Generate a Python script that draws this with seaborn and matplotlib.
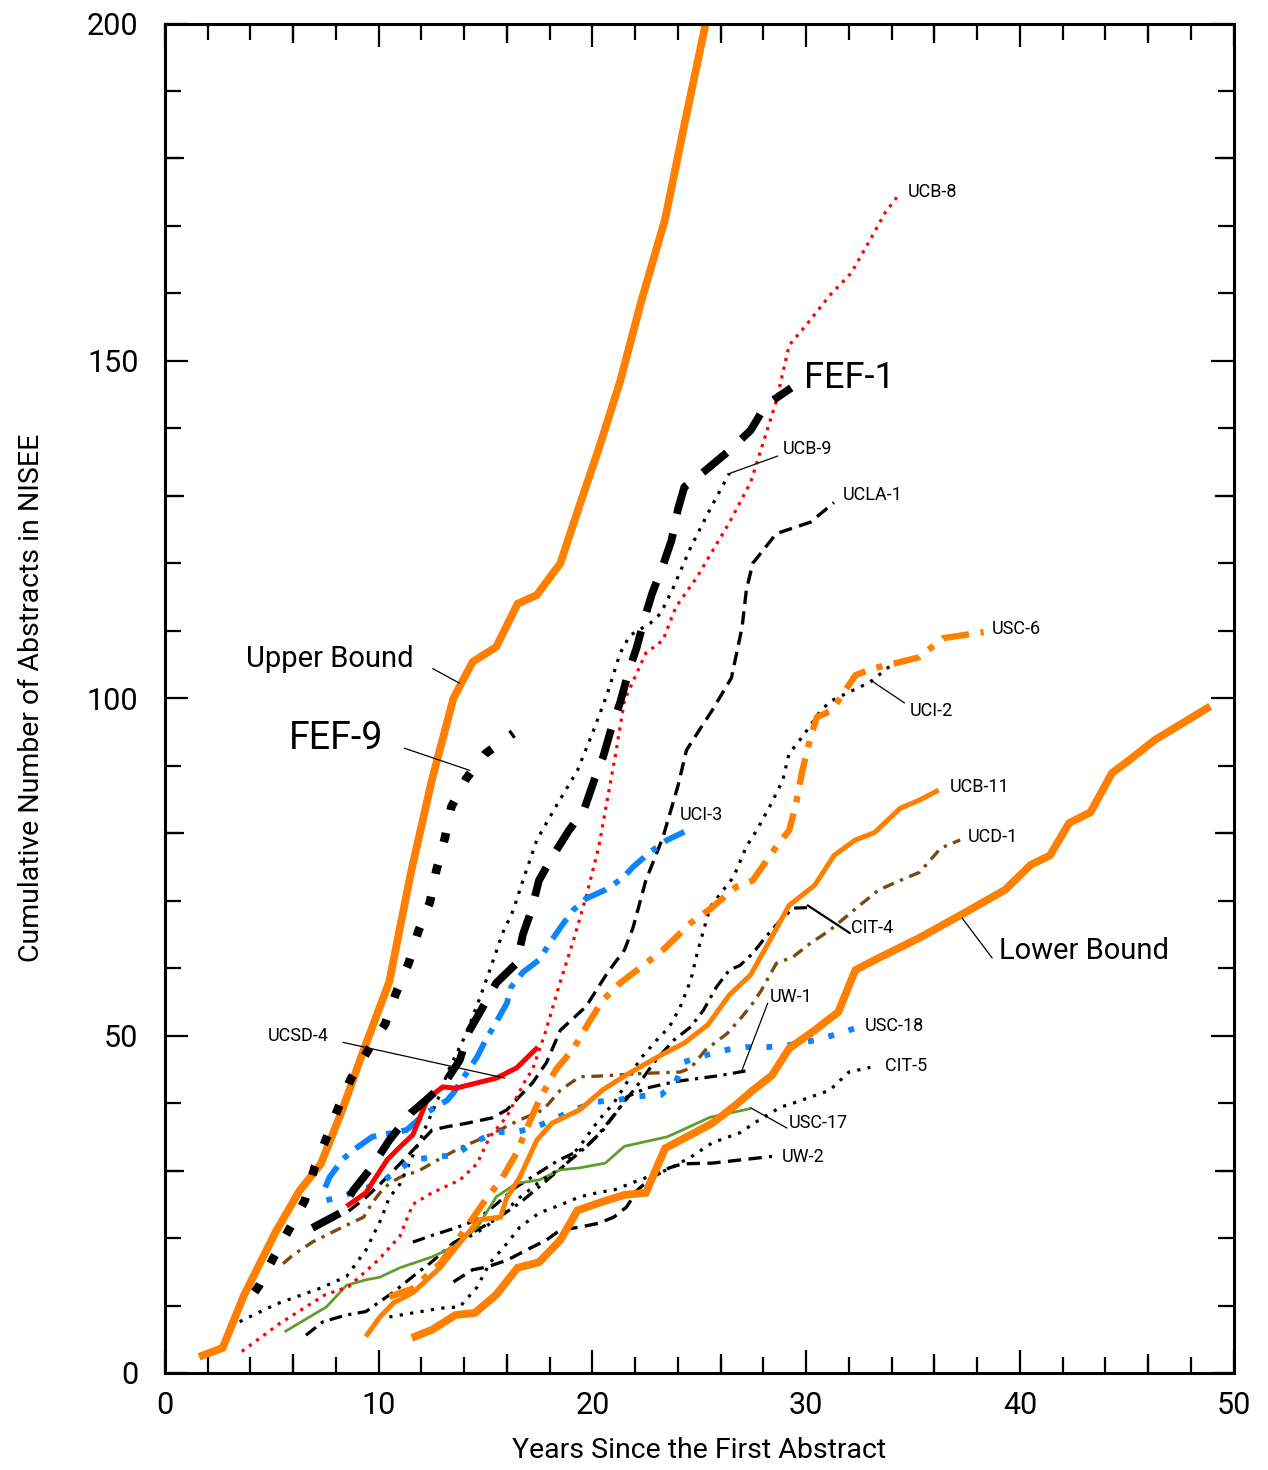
import matplotlib
matplotlib.use("Agg")
import matplotlib.pyplot as plt
import seaborn as sns
import numpy as np
import pandas as pd

# ---------------- data ----------------
upper_x = [1.6, 2.7, 3.7, 5.2, 6.3, 7.3, 8.3, 9.2, 10.5, 11.5, 12.5, 13.5, 14.4, 15.5, 16.5, 17.4, 18.5, 19.4, 20.3, 21.3, 22.3, 23.4, 24.3, 25.3]
upper_y = [2.4, 3.7, 11.5, 21, 27, 31, 39, 47, 58, 74, 88, 100, 105.4, 107.6, 114, 115.3, 120, 128.6, 137, 147, 159, 171, 185, 200]

lower_x = [11.55, 12.5, 13.6, 14.5, 15.5, 16.5, 17.5, 18.5, 19.3, 20.3, 21.5, 22.5, 23.4, 24.6, 25.6, 26.7, 27.5, 28.4, 29.2, 30.4, 31.5, 32.3, 33.2, 35.3, 37.3, 39.3, 40.5, 41.4, 42.3, 43.3, 44.3, 45.1, 46.3, 48.9]
lower_y = [5.2, 6.4, 8.6, 8.9, 11.6, 15.6, 16.4, 19.7, 24.1, 25.2, 26.4, 26.7, 33.3, 35.3, 37, 39.7, 41.9, 44.1, 48.1, 50.8, 53.5, 59.7, 61.2, 64.5, 68, 71.6, 75.3, 76.7, 81.5, 83.1, 88.9, 90.8, 93.8, 98.8]

fef9_x = [4.2, 4.4, 5.1, 5.85, 6.55, 7.0, 7.56, 8.1, 8.7, 9.5, 10.3, 10.8, 11.4, 11.85, 12.4, 12.7, 13.1, 13.4, 14.1, 15.0, 16.3]
fef9_y = [12, 12.9, 17.2, 21.5, 25.6, 30.4, 34.8, 39.2, 43.6, 47.8, 51.7, 56.2, 60.7, 65.4, 69.8, 74.5, 79.3, 83.9, 88.1, 91.8, 94.8]

fef1_x = [6.9, 8.2, 8.8, 9.7, 10.5, 11.5, 12.2, 13.1, 13.8, 14.2, 14.8, 15.5, 16.45, 16.75, 17.15, 17.5, 18.1, 18.9, 19.6, 20.1, 20.5, 20.9, 21.3, 21.7, 22.06, 22.45, 22.8, 23.3, 23.7, 24.0, 24.3, 25.3, 26.4, 27.4, 28.1, 29.3]
fef1_y = [21.5, 23.7, 27, 30.6, 34.5, 38.5, 40.4, 43, 46.4, 50.5, 53.8, 57.8, 60.7, 65, 68.6, 73, 76.4, 80.4, 83.4, 88, 91.3, 95.7, 99.4, 104, 107.4, 112, 115.6, 119.7, 123.4, 128, 131.3, 133.8, 136.7, 139.7, 143.4, 146]

ucb8_x = [3.6, 5.4, 7.5, 8.6, 10.0, 11.0, 11.6, 12.5, 13.8, 14.6, 15.2, 16.0, 16.8, 17.2, 17.8, 18.5, 19.1, 19.7, 20.3, 21.1, 21.5, 22.5, 23.3, 23.9, 24.9, 26.4, 27.4, 28.1, 28.6, 29.2, 30.1, 31.1, 32.1, 33.0, 33.7, 34.3]
ucb8_y = [3.2, 7.4, 11.6, 12.8, 16.8, 20.3, 25, 26.7, 28.6, 31, 35, 38, 43, 45, 50.5, 58, 64, 70.5, 78, 92, 99.7, 106.7, 108.6, 113.5, 118, 126, 132, 139, 144, 152.3, 155.7, 159.7, 163, 168, 172, 174.5]

ucb9_x = [3.5, 5.2, 7.3, 8.5, 9.4, 10.1, 10.5, 11.0, 12.0, 12.9, 13.2, 13.5, 14.1, 14.7, 15.2, 15.8, 16.3, 16.75, 17.4, 18.3, 19.3, 20.0, 20.7, 21.3, 21.75, 22.7, 23.2, 23.8, 24.6, 25.5, 26.4]
ucb9_y = [7.6, 10.2, 12.6, 14.3, 18.2, 22.7, 26, 28, 35, 41.5, 44.4, 46.4, 50.3, 55.3, 59.7, 65.2, 68.6, 73, 79, 84, 89.3, 94.8, 100.7, 106.7, 109.3, 111.1, 112.6, 116.5, 122.4, 128, 133.3]

ucla1_x = [8.6, 9.4, 10.1, 11.0, 11.6, 12.5, 13.2, 14.1, 15.3, 16.0, 16.6, 17.2, 17.85, 18.5, 19.7, 20.7, 21.5, 21.9, 22.5, 23.3, 24.0, 24.4, 24.7, 25.6, 26.5, 26.7, 27.0, 27.2, 27.5, 28.6, 30.2, 31.3]
ucla1_y = [24, 26, 28.1, 31, 33, 36, 36.5, 37, 37.8, 39, 41, 43, 46, 50.8, 54.3, 59.3, 62.7, 66, 73, 79.4, 87, 92.3, 93.8, 98.2, 103, 106, 110.5, 116, 120, 124.4, 126.1, 129]

usc6_x = [10.5, 11.6, 12.9, 13.8, 14.9, 15.8, 16.45, 16.9, 17.5, 18.3, 19.1, 19.9, 20.5, 21.3, 22.5, 23.3, 24.6, 25.6, 26.7, 27.5, 28.6, 29.2, 29.5, 29.8, 30.2, 30.5, 31.2, 32.3, 33.1, 34.2, 35.3, 36.4, 38.3]
usc6_y = [11.3, 12.5, 16.3, 20.2, 25.2, 29, 32.6, 36, 40.4, 45, 48, 52.3, 55.3, 57.8, 60.7, 62.7, 66.7, 69, 72, 73, 78, 80.4, 84, 89, 94.2, 97.2, 98.2, 103.4, 104.4, 105.2, 106.1, 108.9, 109.8]

uci2_x = [13.8, 14.6, 15.6, 16.6, 17.6, 18.6, 19.5, 20.3, 21.0, 21.6, 22.2, 23.0, 23.6, 24.1, 24.6, 24.9, 25.2, 25.5, 26.0, 26.6, 27.2, 27.7, 28.3, 28.9, 29.2, 29.8, 30.6, 31.1, 32.0, 33.0, 34.2]
uci2_y = [19.5, 20.8, 23, 26, 28.5, 30.5, 34, 37.5, 40, 43, 46.4, 49.3, 51.3, 54.2, 58.2, 62.2, 65.6, 69, 71.1, 73.5, 78, 80.5, 84, 87.8, 91.8, 94.2, 97.8, 99.5, 100.9, 102.4, 105.5]

uci3_x = [7.5, 7.7, 8.3, 8.8, 9.7, 11.3, 12.2, 13.2, 13.5, 14.1, 14.6, 15.0, 15.5, 16.0, 16.2, 16.75, 17.5, 18.0, 18.5, 19.1, 19.7, 20.6, 21.4, 21.9, 22.7, 23.5, 24.3]
uci3_y = [27.5, 29, 31.6, 33, 35, 36, 38.5, 40.4, 41.5, 44.4, 46.8, 49.3, 52, 54.8, 57.2, 59.4, 61.2, 63.7, 66, 68.6, 70.3, 71.6, 73.3, 75, 77.2, 79, 80.2]

ucb11_x = [9.4, 10.06, 10.7, 11.6, 12.9, 13.8, 14.7, 15.7, 16.0, 16.6, 17.4, 18.1, 19.4, 20.5, 21.7, 23.2, 24.3, 25.4, 26.4, 27.4, 28.3, 29.2, 30.4, 31.3, 32.3, 33.2, 34.4, 35.3, 36.2]
ucb11_y = [5.4, 8.3, 10.4, 11.9, 15.7, 19.3, 22.7, 23.1, 26, 29, 34.5, 37, 39, 42, 44.4, 47.1, 48.9, 51.6, 56, 59, 64.1, 69.3, 72.3, 76.7, 79, 80.1, 83.7, 84.9, 86.4]

ucd1_x = [5.53, 6.0, 6.9, 8.3, 9.3, 9.7, 10.06, 10.5, 11.0, 11.9, 13.0, 13.9, 15.0, 16.6, 17.7, 18.5, 19.4, 20.3, 22.4, 24.1, 24.6, 25.3, 26.3, 27.0, 27.5, 27.9, 28.6, 29.4, 30.2, 31.1, 32.5, 33.4, 34.4, 35.3, 36.3, 37.2]
ucd1_y = [16.2, 17.5, 19.4, 21.6, 23.1, 25.2, 26.7, 28.1, 29, 30, 32, 33.5, 35, 37.5, 39, 41.9, 43.9, 44, 44.4, 44.6, 45.2, 47.9, 50.3, 52.8, 54.8, 56.7, 60.7, 61.7, 63.7, 65.6, 69.3, 71.6, 73, 74.2, 77.8, 79]

cit4_x = [6.6, 7.4, 8.5, 9.4, 10.7, 11.6, 12.5, 13.5, 14.5, 15.5, 16.6, 17.7, 18.8, 19.7, 20.5, 21.3, 22.2, 23.0, 23.8, 24.6, 25.2, 25.8, 26.4, 26.9, 27.5, 28.1, 28.8, 29.4, 30.3]
cit4_y = [5.6, 7.6, 8.6, 9.1, 12, 14.3, 16.5, 19.3, 21, 22.8, 25.2, 28.1, 31.1, 33.5, 36, 39.4, 43, 46.5, 49.3, 51.3, 53.8, 57.2, 59.7, 60.4, 62.2, 64.6, 67.1, 68.9, 69]

uw1_x = [11.6, 12.6, 13.6, 14.6, 15.5, 16.4, 17.4, 18.4, 19.4, 19.7, 20.2, 20.7, 21.3, 21.6, 22.5, 23.9, 26.0, 27.4]
uw1_y = [19.4, 20.5, 21.5, 22.7, 25, 27.5, 29.5, 31.5, 33, 33.5, 35, 37, 39.4, 40.9, 42.2, 43.2, 44.1, 44.9]

usc18_x = [7.56, 8.2, 9.1, 10.06, 10.8, 11.6, 12.6, 13.6, 14.4, 15.5, 16.45, 17.4, 18.3, 19.3, 20.2, 21.1, 22.1, 23.2, 23.9, 24.3, 25.3, 26.3, 27.2, 28.2, 29.2, 30.4, 31.3, 32.3]
usc18_y = [25.6, 26.1, 27.1, 28.1, 29.8, 31.6, 32, 32.3, 34.1, 35.7, 35.7, 36.5, 37.8, 39.2, 40.2, 40.4, 41, 41.2, 43.1, 46.1, 47.1, 47.9, 48.3, 48.3, 48.6, 49.3, 50.1, 51.1]

cit5_x = [10.5, 11.6, 12.9, 13.8, 14.6, 15.2, 16.0, 16.6, 17.5, 18.5, 19.4, 20.35, 21.0, 22.2, 23.5, 24.6, 25.6, 26.9, 27.8, 28.8, 29.4, 31.1, 32.0, 33.0]
cit5_y = [8.3, 8.9, 9.6, 9.8, 12.7, 16.3, 19.2, 21.6, 23.7, 24.9, 26.1, 26.8, 27.1, 28.6, 30.1, 32, 34.1, 35.6, 37.5, 39.4, 40, 41.9, 44.6, 45.3]

usc17_x = [5.6, 7.56, 8.5, 9.4, 10.06, 11.0, 12.5, 13.5, 14.6, 15.5, 16.45, 17.5, 18.5, 19.4, 20.6, 21.5, 23.5, 24.2, 25.5, 26.4, 27.4]
usc17_y = [6.1, 9.8, 13, 13.8, 14.2, 15.6, 17.2, 18.7, 21.5, 26.1, 28.1, 28.6, 30.1, 30.4, 31.1, 33.6, 35, 36, 37.9, 38.5, 39.2]

uw2_x = [13.5, 14.4, 15.05, 16.0, 16.9, 17.85, 18.5, 19.4, 20.3, 21.0, 21.6, 22.1, 22.8, 23.6, 24.2, 25.6, 27.0, 28.4]
uw2_y = [13.5, 15.3, 15.7, 16.7, 18.2, 19.7, 21.2, 21.6, 22.2, 23.1, 24.6, 27.1, 29, 30.4, 31, 31.1, 31.6, 32.1]

ucsd4_x = [8.5, 9.4, 10.4, 11.0, 11.6, 12.3, 13.0, 13.6, 15.5, 16.45, 17.45]
ucsd4_y = [24.7, 26.7, 31.6, 33.5, 35.3, 40.7, 42.4, 42.2, 43.7, 45.2, 48.3]

x_ticks = [0, 10, 20, 30, 40, 50]
y_ticks = [0, 50, 100, 150, 200]

# ---------------- styling ----------------
sns.set_theme(style="ticks")
plt.rcParams['font.family'] = ['Roboto', 'DejaVu Sans']
plt.rcParams['text.color'] = 'black'
plt.rcParams['axes.labelcolor'] = 'black'
plt.rcParams['xtick.color'] = 'black'
plt.rcParams['ytick.color'] = 'black'
WEIGHT = 'normal'

ORANGE = "#FF8000"
RED = "#FF0000"
BLUE = "#0A84FF"
BROWN = "#7A4A10"
GREEN = "#5E9E2E"
BLACK = "#000000"

fig = plt.figure(figsize=(12.68, 14.70), dpi=100)
ax = fig.add_axes([0.130, 0.066, 0.843, 0.918])

def draw(x, y, color, lw, ls="-", z=2, cap="butt"):
    df = pd.DataFrame({"x": x, "y": y})
    sns.lineplot(data=df, x="x", y="y", sort=False, estimator=None, ax=ax,
                 color=color, linewidth=lw, linestyle=ls, zorder=z,
                 dash_capstyle=cap, solid_capstyle="butt", solid_joinstyle="miter")

# thin lines first
draw(cit5_x, cit5_y, BLACK, 2.3, (0, (1, 2.3)))
draw(uw2_x, uw2_y, BLACK, 2.4, (0, (4, 2.2)))
draw(uw1_x, uw1_y, BLACK, 2.3, (0, (4, 2, 1, 2)))
draw(cit4_x, cit4_y, BLACK, 2.3, (0, (4, 2, 1, 2)))
draw(usc17_x, usc17_y, GREEN, 2.0)
draw(ucd1_x, ucd1_y, BROWN, 2.4, (0, (3.5, 2, 1, 2)))
draw(uci2_x, uci2_y, BLACK, 2.3, (0, (1, 2.3)))
draw(ucla1_x, ucla1_y, BLACK, 2.4, (0, (4, 2.2)))
draw(ucb9_x, ucb9_y, BLACK, 2.3, (0, (1, 2.3)))
draw(ucb8_x, ucb8_y, RED, 2.3, (0, (1, 1.8)))
draw(usc18_x, usc18_y, BLUE, 4.2, (0, (1, 2.6)))
draw(ucb11_x, ucb11_y, ORANGE, 3.6)
draw(usc6_x, usc6_y, ORANGE, 4.6, (0, (4.2, 1.8, 1, 1.8)))
draw(uci3_x, uci3_y, BLUE, 4.2, (0, (4.2, 1.7, 1, 1.7)))
draw(ucsd4_x, ucsd4_y, RED, 3.6)
draw(lower_x, lower_y, ORANGE, 5.6)
draw(upper_x, upper_y, ORANGE, 5.6)
draw(fef1_x, fef1_y, BLACK, 5.6, (0, (4.0, 2.6)))
draw(fef9_x, fef9_y, BLACK, 6.2, (0, (1.1, 2.7)))

# ---------------- axes ----------------
ax.set_xlim(0, 50)
ax.set_ylim(0, 200)
ax.set_xticks(x_ticks)
ax.set_yticks(y_ticks)
ax.set_xticks(np.arange(0, 51, 2), minor=True)
ax.set_yticks(np.arange(0, 201, 10), minor=True)
ax.tick_params(which="major", direction="in", length=16.5, width=1.6,
               top=True, right=True, labelsize=22, colors=BLACK)
ax.tick_params(which="minor", direction="in", length=11.5, width=1.6,
               top=True, right=True)
ax.tick_params(axis="x", which="major", pad=13)
ax.tick_params(axis="y", which="major", pad=19)
for s in ax.spines.values():
    s.set_linewidth(2.2)
    s.set_color(BLACK)

# medium ticks
for loc in ("bottom", "top"):
    sec = ax.secondary_xaxis(loc)
    sec.set_xticks([6, 16, 26, 36, 46])
    sec.set_xticklabels([])
    sec.tick_params(direction="in", length=13.7, width=1.6)
    sec.spines[loc].set_visible(False)
for loc in ("left", "right"):
    sec = ax.secondary_yaxis(loc)
    sec.set_yticks([30, 80, 130, 180])
    sec.set_yticklabels([])
    sec.tick_params(direction="in", length=13.7, width=1.6)
    sec.spines[loc].set_visible(False)

ax.set_xlabel("Years Since the First Abstract", fontsize=20.5, labelpad=12)
ax.set_ylabel("Cumulative Number of Abstracts in NISEE", fontsize=20.5, labelpad=30)

# ---------------- labels ----------------
small = 13
def lab(txt, x, y, fs=small):
    ax.text(x, y, txt, fontsize=fs, ha="left", va="center", color=BLACK, zorder=5)

def pointer(x0, y0, x1, y1, lw=0.9):
    ax.annotate("", xy=(x1, y1), xytext=(x0, y0),
                arrowprops=dict(arrowstyle="-", color=BLACK, lw=lw, shrinkA=0, shrinkB=0))

lab("UCB-8", 34.75, 175.0)
lab("UCB-9", 28.9, 137.0); pointer(28.67, 135.9, 26.4, 133.3)
lab("UCLA-1", 31.7, 130.1)
lab("USC-6", 38.7, 110.2)
lab("UCI-2", 34.85, 98.1); pointer(34.6, 99.3, 33.0, 102.7)
lab("UCI-3", 24.1, 82.7)
lab("UCB-11", 36.7, 86.8)
lab("UCD-1", 37.56, 79.4)
lab("CIT-4", 32.1, 65.9); pointer(32.04, 65.2, 30.07, 69.3, lw=1.6)
lab("UW-1", 28.3, 55.7); pointer(28.2, 54.8, 27.0, 44.9)
lab("USC-18", 32.74, 51.4)
lab("CIT-5", 33.7, 45.5)
lab("USC-17", 29.2, 37.0); pointer(29.1, 36.3, 27.4, 39.3)
lab("UW-2", 28.86, 32.0)
lab("UCSD-4", 4.8, 49.9); pointer(8.33, 49.0, 15.9, 43.7)
lab("Upper Bound", 3.8, 105.8, fs=21); pointer(12.53, 104.4, 13.8, 102.2)
lab("FEF-9", 5.8, 94.0, fs=27); pointer(11.2, 92.6, 14.27, 89.3)
lab("FEF-1", 29.9, 147.4, fs=26)
lab("Lower Bound", 39.0, 62.5, fs=21); pointer(38.7, 61.5, 37.3, 67.4)

fig.savefig("out.png", dpi=100)
